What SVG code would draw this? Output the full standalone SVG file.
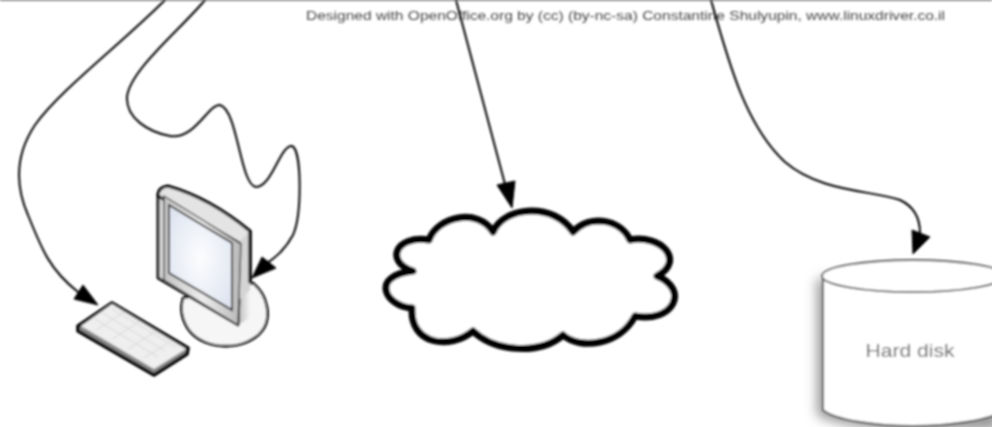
<svg xmlns="http://www.w3.org/2000/svg" width="992" height="427" viewBox="0 0 992 427">
<style>
.conn{fill:none;stroke:#000;stroke-width:2;stroke-linecap:round}
.head{fill:#000;stroke:#000;stroke-width:1}
.txt{font-family:"Liberation Sans",Arial,sans-serif}
.ol{stroke:#000;stroke-linejoin:round}
</style>
<defs>
<filter id="soft" filterUnits="userSpaceOnUse" x="0" y="-5" width="992" height="437"><feGaussianBlur stdDeviation="0.8"/></filter>
<filter id="shadow" filterUnits="userSpaceOnUse" x="780" y="240" width="240" height="200"><feGaussianBlur stdDeviation="6"/></filter>
<radialGradient id="screen" cx="50%" cy="50%" r="60%"><stop offset="0" stop-color="#fdfdfe"/><stop offset="1" stop-color="#dfe5f1"/></radialGradient>
<linearGradient id="bezel" x1="0" y1="0" x2="1" y2="0"><stop offset="0" stop-color="#c4c4c4"/><stop offset="0.5" stop-color="#ececec"/><stop offset="1" stop-color="#b8b8b8"/></linearGradient>
<linearGradient id="stand" x1="0" y1="0" x2="1" y2="0"><stop offset="0" stop-color="#bbb"/><stop offset="1" stop-color="#f4f4f4"/></linearGradient>
</defs>
<rect width="992" height="427" fill="#fff"/>
<g filter="url(#soft)">
<rect id="top-rule" x="0" y="-1" width="992" height="2" fill="#888"/>
<text id="credit" class="txt" x="306" y="20" font-size="12" fill="#444" textLength="639" lengthAdjust="spacingAndGlyphs">Designed with OpenOffice.org by (cc) (by-nc-sa) Constantine Shulyupin, www.linuxdriver.co.il</text>

<g id="monitor">
<path d="M253,283 C268,295 272,318 262,331 C248,350 205,353 188,329 C181,318 180,308 183,298 Z" fill="#f6f6f6" class="ol" stroke-width="2.6"/>
<path d="M238,325 L240,280 L250,283 L250,318 Z" fill="url(#stand)"/>
<path d="M158,196 Q158,187 168,186 Q210,198 250,231 L250,283" fill="#e4e4e4" class="ol" stroke-width="3.2"/>
<path d="M158,196 L158,278 L238,325 L241,244 Z" fill="#d8d8d8" class="ol" stroke-width="2.8"/>
<path d="M241,240 L250,231 L250,290 L239,300 Z" fill="#d4d4d4"/>
<path d="M250,231 L250,283" class="ol" stroke-width="3.2"/>
<path d="M164,196 L241,244 L238,325 L164,280 Z" fill="url(#bezel)" stroke="#444" stroke-width="1.4"/>
<path d="M169,205 L232,243 L232,310 L169,273 Z" fill="url(#screen)" stroke="#333" stroke-width="2"/>
</g>

<g id="keyboard">
<path d="M112,303 L188,348 L187,354 L154,375 L78,331 L78,326 Z" fill="#888" class="ol" stroke-width="3.6"/>
<path d="M112,304 L186,349 L154,369 L81,326 Z" fill="#efefef"/>
<path d="M103,313 L165,351 M95,319 L158,357 M112,309 L176,347 M96,330 L124,312 M112,339 L140,321 M128,349 L156,331 M144,358 L170,342" stroke="#ddd" stroke-width="1.2" fill="none"/>
</g>

<g id="cloud">
<path d="M429,240 C437,217 478,207 493,232 C505,205 555,203 573,232 C590,214 620,219 630,240 C660,234 686,260 657,276 C690,290 673,323 635,316 C620,345 580,350 563,335 C540,355 495,352 473,331 C450,350 410,345 412,308 C385,306 370,276 413,271 C385,262 395,235 429,240 Z" fill="#fff" stroke="#000" stroke-width="7" stroke-linejoin="round"/>
</g>

<g id="hard-disk">
<path d="M822,276 L822,412 C835,420 875,427 913,427 L1004,427 L1004,276 Z" fill="#999" filter="url(#shadow)" transform="translate(-5,3)"/>
<path d="M823,276 L823,410 C835,420 875,426 913,426 C950,426 992,420 1004,410 L1004,276 Z" fill="#fff" stroke="#555" stroke-width="1.8"/>
<ellipse cx="913" cy="276" rx="91" ry="16" fill="#fff" stroke="#555" stroke-width="1.8"/>
<text class="txt" x="910" y="357" font-size="18.5" fill="#666" text-anchor="middle" textLength="89" lengthAdjust="spacingAndGlyphs">Hard disk</text>
</g>

<g id="connectors">
<path class="conn" d="M165,0 C120,45 60,90 35,125 C15,155 15,185 28,215 C42,250 50,270 78,292"/>
<path class="head" d="M98,305 L74,299 L83,285 Z"/>
<path class="conn" d="M205,0 C180,30 130,70 127,97 C126,118 148,132 170,136 C195,140 208,104 220,105 C238,110 240,185 256,187 C272,187 280,145 292,146 C302,150 302,215 293,235 C285,250 275,258 263,266"/>
<path class="head" d="M252,278 L262,257 L276,268 Z"/>
<path class="conn" d="M456,0 L506,188"/>
<path class="head" d="M512,208 L497,185 L515,181 Z"/>
<path class="conn" d="M711,0 C728,60 745,125 785,162 C820,192 870,190 900,200 C915,207 920,220 920,233"/>
<path class="head" d="M913,254 L912,230 L930,237 Z"/>
</g>
</g>
</svg>
